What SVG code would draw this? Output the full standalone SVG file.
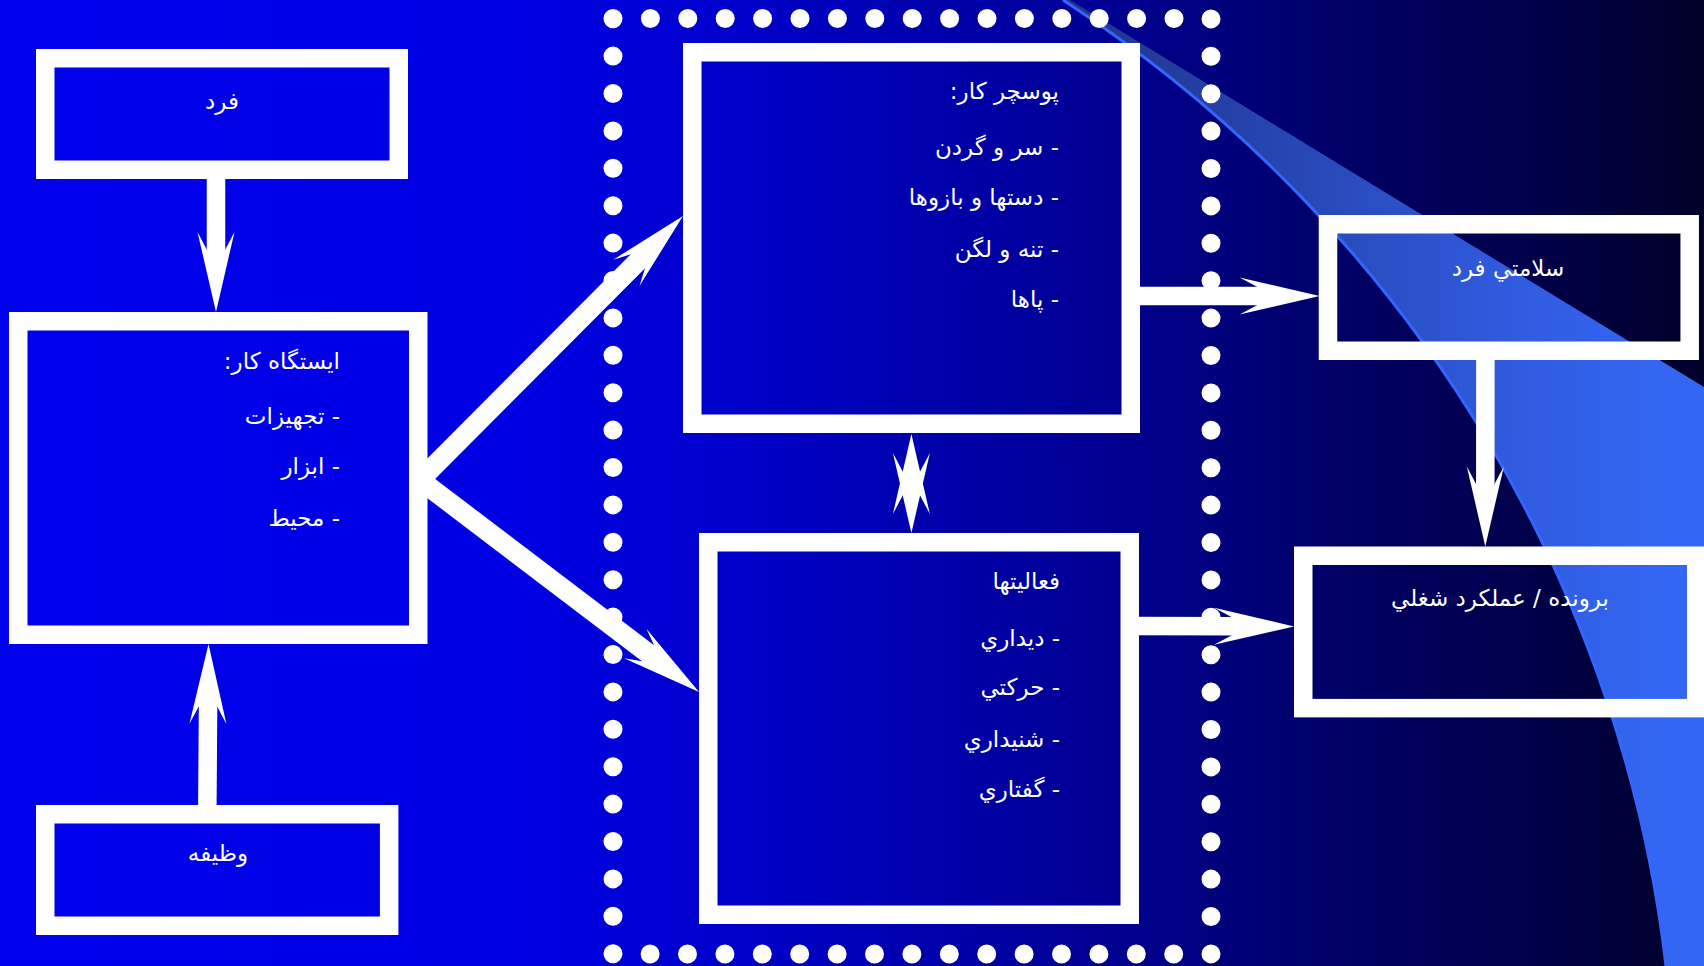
<svg xmlns="http://www.w3.org/2000/svg" width="1704" height="966" viewBox="0 0 1704 966">
  <defs>
    <linearGradient id="bg" gradientUnits="userSpaceOnUse" x1="0" y1="0" x2="1704" y2="0">
      <stop offset="0" stop-color="#0000EE"/>
      <stop offset="0.3" stop-color="#0000E4"/>
      <stop offset="0.41" stop-color="#0000D0"/>
      <stop offset="0.65" stop-color="#000092"/>
      <stop offset="0.78" stop-color="#000068"/>
      <stop offset="0.9" stop-color="#00004A"/>
      <stop offset="1" stop-color="#000028"/>
    </linearGradient>
    <linearGradient id="swoosh" gradientUnits="userSpaceOnUse" x1="1063" y1="0" x2="1704" y2="0">
      <stop offset="0" stop-color="#1F3488"/>
      <stop offset="0.37" stop-color="#2747B5"/>
      <stop offset="0.68" stop-color="#2F5ADC"/>
      <stop offset="0.92" stop-color="#3366F2"/>
      <stop offset="1" stop-color="#3366F5"/>
    </linearGradient>
    <!-- stealth arrowhead, origin at the notch where the shaft ends -->
    <marker id="head" markerUnits="userSpaceOnUse" orient="auto-start-reverse" overflow="visible" refX="0" refY="0" markerWidth="1" markerHeight="1">
      <path d="M45,0 L-35,-18.5 L0,0 L-35,18.5 Z" fill="#FFFFFF"/>
    </marker>
    <style>
      .box { fill: none; stroke: #FFFFFF; stroke-width: 18.5; }
      .link { fill: none; stroke: #FFFFFF; stroke-width: 18.5; stroke-linecap: butt; marker-end: url(#head); }
      .diag { stroke-width: 20; }
      .t { font-family: "DejaVu Sans", sans-serif; font-size: 23px; fill: #FFFFFF; }
      .rtl { direction: rtl; text-anchor: start; }
      .mid { text-anchor: middle; }
    </style>
  </defs>

  <!-- background -->
  <rect x="0" y="0" width="1704" height="966" fill="url(#bg)"/>
  <path d="M1063,0 C1430,240 1625,610 1666,966 L1704,966 L1704,387 L1070,0 Z" fill="url(#swoosh)"/>
  <path d="M1063,0 C1430,240 1625,610 1666,966" fill="none" stroke="#3366FF" stroke-width="3"/>

  <!-- dotted frame around posture and activities -->
  <rect id="frame" x="613" y="18.5" width="598" height="935.5" fill="none" stroke="#FFFFFF" stroke-width="19" stroke-linecap="round" stroke-dasharray="0 37.4"/>

  <g id="connectors">
    <path class="link" d="M216,170 L216,267"/>
    <path class="link" d="M207.3,812 L208.2,689"/>
    <path class="link diag" d="M420,480 L651.2,247.9"/>
    <path class="link diag" d="M420,480 L663.2,664.8"/>
    <path class="link" style="marker-start:url(#head)" d="M911.4,479 L911.4,488"/>
    <path class="link" d="M1130,296 L1274.6,296"/>
    <path class="link" d="M1130,626 L1249,626.3"/>
    <path class="link" d="M1485.4,355 L1485.3,501.5"/>
  </g>

  <g id="node-fard">
    <rect class="box" x="45.25" y="58.25" width="353.5" height="111.5"/>
    <text class="t mid" x="222" y="109">فرد</text>
  </g>

  <g id="node-workstation">
    <rect class="box" x="18.25" y="321.25" width="400" height="313.5"/>
    <text class="t rtl" x="340" y="369">ایستگاه کار:</text>
    <text class="t rtl" x="340" y="424">- تجهیزات</text>
    <text class="t rtl" x="340" y="474">- ابزار</text>
    <text class="t rtl" x="340" y="526">- محیط</text>
  </g>

  <g id="node-task">
    <rect class="box" x="45.25" y="814.25" width="343.9" height="111.5"/>
    <text class="t mid" x="218" y="861">وظیفه</text>
  </g>

  <g id="node-posture">
    <rect class="box" x="692.25" y="52.25" width="438.5" height="371.5"/>
    <text class="t rtl" x="1059" y="99">پوسچر کار:</text>
    <text class="t rtl" x="1059" y="155">- سر و گردن</text>
    <text class="t rtl" x="1059" y="205">- دستها و بازوها</text>
    <text class="t rtl" x="1059" y="257">- تنه و لگن</text>
    <text class="t rtl" x="1059" y="307">- پاها</text>
  </g>

  <g id="node-activities">
    <rect class="box" x="708.25" y="542.25" width="421.5" height="372.5"/>
    <text class="t rtl" x="1060" y="589">فعاليتها</text>
    <text class="t rtl" x="1060" y="646">- ديداري</text>
    <text class="t rtl" x="1060" y="695">- حركتي</text>
    <text class="t rtl" x="1060" y="747">- شنيداري</text>
    <text class="t rtl" x="1060" y="797">- گفتاري</text>
  </g>

  <g id="node-health">
    <rect class="box" x="1328" y="224.25" width="361.7" height="126.5"/>
    <text class="t mid" x="1508" y="276">سلامتي فرد</text>
  </g>

  <g id="node-output">
    <rect class="box" x="1303.25" y="555.75" width="393" height="152.4"/>
    <text class="t mid" x="1500" y="606">برونده / عملكرد شغلي</text>
  </g>
</svg>
